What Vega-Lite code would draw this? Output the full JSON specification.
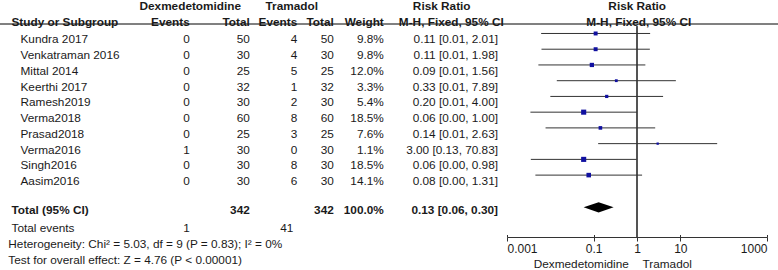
{
  "$schema": "https://vega.github.io/schema/vega-lite/v6.json",
  "width": 778,
  "height": 237,
  "autosize": {"type": "none"},
  "padding": {"left": 0, "top": 0, "right": 0, "bottom": 33},
  "background": "white",
  "config": {"view": {"stroke": null}, "font": "Liberation Sans"},
  "data": {"name": "table"},
  "datasets": {
    "table": [
      {"row": "h1", "kind": "header", "dexHdr": "Dexmedetomidine", "traHdr": "Tramadol", "rr1": "Risk Ratio", "rr2": "Risk Ratio"},
      {"row": "h2", "kind": "header", "lab": "Study or Subgroup", "dE": "Events", "dT": "Total", "tE": "Events", "tT": "Total", "w": "Weight", "mh1": "M-H, Fixed, 95% CI", "mh2": "M-H, Fixed, 95% CI"},
      {"row": "Kundra 2017", "kind": "study", "dE": 0, "dT": 50, "tE": 4, "tT": 50, "weight": 9.8, "w": "9.8%", "rr": 0.111, "lo": 0.00614, "hi": 2.01, "ci": "0.11 [0.01, 2.01]"},
      {"row": "Venkatraman 2016", "kind": "study", "dE": 0, "dT": 30, "tE": 4, "tT": 30, "weight": 9.8, "w": "9.8%", "rr": 0.111, "lo": 0.00625, "hi": 1.98, "ci": "0.11 [0.01, 1.98]"},
      {"row": "Mittal 2014", "kind": "study", "dE": 0, "dT": 25, "tE": 5, "tT": 25, "weight": 12.0, "w": "12.0%", "rr": 0.0909, "lo": 0.0053, "hi": 1.56, "ci": "0.09 [0.01, 1.56]"},
      {"row": "Keerthi 2017", "kind": "study", "dE": 0, "dT": 32, "tE": 1, "tT": 32, "weight": 3.3, "w": "3.3%", "rr": 0.333, "lo": 0.0141, "hi": 7.89, "ci": "0.33 [0.01, 7.89]"},
      {"row": "Ramesh2019", "kind": "study", "dE": 0, "dT": 30, "tE": 2, "tT": 30, "weight": 5.4, "w": "5.4%", "rr": 0.2, "lo": 0.01, "hi": 4.0, "ci": "0.20 [0.01, 4.00]"},
      {"row": "Verma2018", "kind": "study", "dE": 0, "dT": 60, "tE": 8, "tT": 60, "weight": 18.5, "w": "18.5%", "rr": 0.0588, "lo": 0.00347, "hi": 1.0, "ci": "0.06 [0.00, 1.00]"},
      {"row": "Prasad2018", "kind": "study", "dE": 0, "dT": 25, "tE": 3, "tT": 25, "weight": 7.6, "w": "7.6%", "rr": 0.143, "lo": 0.00776, "hi": 2.63, "ci": "0.14 [0.01, 2.63]"},
      {"row": "Verma2016", "kind": "study", "dE": 1, "dT": 30, "tE": 0, "tT": 30, "weight": 1.1, "w": "1.1%", "rr": 3.0, "lo": 0.127, "hi": 70.83, "ci": "3.00 [0.13, 70.83]"},
      {"row": "Singh2016", "kind": "study", "dE": 0, "dT": 30, "tE": 8, "tT": 30, "weight": 18.5, "w": "18.5%", "rr": 0.0588, "lo": 0.00355, "hi": 0.98, "ci": "0.06 [0.00, 0.98]"},
      {"row": "Aasim2016", "kind": "study", "dE": 0, "dT": 30, "tE": 6, "tT": 30, "weight": 14.1, "w": "14.1%", "rr": 0.0769, "lo": 0.00452, "hi": 1.31, "ci": "0.08 [0.00, 1.31]"},
      {"row": "total", "kind": "total", "lab": "Total (95% CI)", "dT": 342, "tT": 342, "w": "100.0%", "rr": 0.13, "lo": 0.06, "hi": 0.3, "ci": "0.13 [0.06, 0.30]"},
      {"row": "events", "kind": "events", "lab": "Total events", "dE": 1, "tE": 41},
      {"row": "het", "kind": "note", "note": "Heterogeneity: Chi² = 5.03, df = 9 (P = 0.83); I² = 0%"},
      {"row": "test", "kind": "note", "note": "Test for overall effect: Z = 4.76 (P < 0.00001)", "favL": "Dexmedetomidine", "favR": "Tramadol"}
    ]
  },
  "encoding": {
    "y": {
      "field": "row", "type": "nominal",
      "scale": {"type": "point", "padding": 0, "range": [8.0, 259.8],
        "domain": ["h1", "h2", "Kundra 2017", "Venkatraman 2016", "Mittal 2014", "Keerthi 2017", "Ramesh2019", "Verma2018", "Prasad2018", "Verma2016", "Singh2016", "Aasim2016", "gap", "total", "events", "het", "test"]},
      "axis": null
    }
  },
  "resolve": {"scale": {"x": "independent"}},
  "layer": [
    {
      "resolve": {"axis": {"x": "independent"}},
      "layer": [
        {
          "mark": {"type": "rule", "color": "#555555", "strokeWidth": 1, "yOffset": 3},
          "encoding": {
            "x": {"datum": 1, "type": "quantitative",
              "scale": {"type": "log", "domain": [0.001, 1000], "range": [507, 767], "nice": false},
              "axis": {"orient": "top", "offset": -237, "values": [0.001, 0.1, 1, 10, 1000], "labels": false, "domain": false, "tickSize": 2.5, "tickColor": "#333333", "grid": false, "title": null}},
            "y": {"datum": "h2"},
            "y2": {"value": "height"}
          }
        },
        {
          "transform": [{"filter": "datum.kind == 'study'"}],
          "mark": {"type": "rule", "color": "#333333", "strokeWidth": 1, "yOffset": -6},
          "encoding": {
            "x": {"field": "lo", "type": "quantitative",
              "scale": {"type": "log", "domain": [0.001, 1000], "range": [507, 767], "nice": false},
              "axis": {"orient": "bottom", "values": [0.001, 0.1, 1, 10, 1000], "format": "~g", "labelFlush": true, "tickSize": 4, "domainColor": "#333333", "tickColor": "#333333", "labelColor": "#1a1a1a", "labelFont": "Liberation Sans", "labelFontSize": 12, "labelPadding": 2, "grid": false, "title": null}},
            "x2": {"field": "hi"}
          }
        },
        {
          "transform": [{"filter": "datum.kind == 'study'"}],
          "mark": {"type": "point", "shape": "square", "filled": true, "opacity": 1, "color": "#1010a0", "yOffset": -6},
          "encoding": {
            "x": {"field": "rr", "type": "quantitative", "axis": null},
            "size": {"field": "weight", "type": "quantitative", "scale": {"domain": [0, 18.5], "range": [4, 26], "zero": false}, "legend": null}
          }
        },
        {
          "transform": [{"filter": "datum.kind == 'total'"}],
          "mark": {"type": "point", "shape": "M-1,0L0,-0.34L1,0L0,0.34Z", "size": 900, "filled": true, "opacity": 1, "color": "#000000", "yOffset": -5.3},
          "encoding": {
            "x": {"field": "rr", "type": "quantitative", "axis": null}
          }
        }
      ]
    },
    {
      "layer": [
        {
          "mark": {"type": "rule", "color": "#808080", "strokeWidth": 1, "yOffset": 0.5},
          "encoding": {"y": {"datum": "h2"}}
        },
        {
          "transform": [{"filter": "datum.kind == 'study'"}],
          "mark": {"type": "text", "align": "left", "baseline": "middle", "fontSize": 11.8, "color": "#1a1a1a"},
          "encoding": {"x": {"datum": 20.5, "type": "quantitative", "scale": {"domain": [0, 778], "range": [0, 778], "zero": false, "nice": false}, "axis": null}, "text": {"field": "row"}}
        },
        {
          "transform": [{"filter": "isValid(datum.lab)"}],
          "mark": {"type": "text", "align": "left", "baseline": "middle", "fontSize": 11.8, "color": "#1a1a1a", "fontWeight": {"expr": "datum.kind == 'header' || datum.kind == 'total' ? 'bold' : 'normal'"}, "dy": {"expr": "datum.kind == 'header' || datum.kind == 'total' ? -2.2 : 0"}},
          "encoding": {"x": {"datum": 11.5, "type": "quantitative"}, "text": {"field": "lab"}}
        },
        {
          "transform": [{"filter": "isValid(datum.note)"}],
          "mark": {"type": "text", "align": "left", "baseline": "middle", "fontSize": 11.8, "color": "#1a1a1a"},
          "encoding": {"x": {"datum": 8.3, "type": "quantitative"}, "text": {"field": "note"}}
        },
        {
          "transform": [{"filter": "isValid(datum.dE)"}],
          "mark": {"type": "text", "align": "right", "baseline": "middle", "fontSize": 11.8, "color": "#1a1a1a", "fontWeight": {"expr": "datum.kind == 'header' || datum.kind == 'total' ? 'bold' : 'normal'"}, "dy": {"expr": "datum.kind == 'header' || datum.kind == 'total' ? -2.2 : 0"}},
          "encoding": {"x": {"datum": 189.8, "type": "quantitative"}, "text": {"field": "dE"}}
        },
        {
          "transform": [{"filter": "isValid(datum.dT)"}],
          "mark": {"type": "text", "align": "right", "baseline": "middle", "fontSize": 11.8, "color": "#1a1a1a", "fontWeight": {"expr": "datum.kind == 'header' || datum.kind == 'total' ? 'bold' : 'normal'"}, "dy": {"expr": "datum.kind == 'header' || datum.kind == 'total' ? -2.2 : 0"}},
          "encoding": {"x": {"datum": 249.8, "type": "quantitative"}, "text": {"field": "dT"}}
        },
        {
          "transform": [{"filter": "isValid(datum.tE)"}],
          "mark": {"type": "text", "align": "right", "baseline": "middle", "fontSize": 11.8, "color": "#1a1a1a", "fontWeight": {"expr": "datum.kind == 'header' || datum.kind == 'total' ? 'bold' : 'normal'"}, "dy": {"expr": "datum.kind == 'header' || datum.kind == 'total' ? -2.2 : 0"}, "dx": {"expr": "datum.kind == 'events' ? -4 : 0"}},
          "encoding": {"x": {"datum": 297.3, "type": "quantitative"}, "text": {"field": "tE"}}
        },
        {
          "transform": [{"filter": "isValid(datum.tT)"}],
          "mark": {"type": "text", "align": "right", "baseline": "middle", "fontSize": 11.8, "color": "#1a1a1a", "fontWeight": {"expr": "datum.kind == 'header' || datum.kind == 'total' ? 'bold' : 'normal'"}, "dy": {"expr": "datum.kind == 'header' || datum.kind == 'total' ? -2.2 : 0"}},
          "encoding": {"x": {"datum": 333.8, "type": "quantitative"}, "text": {"field": "tT"}}
        },
        {
          "transform": [{"filter": "isValid(datum.w)"}],
          "mark": {"type": "text", "align": "right", "baseline": "middle", "fontSize": 11.8, "color": "#1a1a1a", "fontWeight": {"expr": "datum.kind == 'header' || datum.kind == 'total' ? 'bold' : 'normal'"}, "dy": {"expr": "datum.kind == 'header' || datum.kind == 'total' ? -2.2 : 0"}},
          "encoding": {"x": {"datum": 383.8, "type": "quantitative"}, "text": {"field": "w"}}
        },
        {
          "transform": [{"filter": "isValid(datum.ci)"}],
          "mark": {"type": "text", "align": "right", "baseline": "middle", "fontSize": 11.8, "color": "#1a1a1a", "fontWeight": {"expr": "datum.kind == 'header' || datum.kind == 'total' ? 'bold' : 'normal'"}, "dy": {"expr": "datum.kind == 'header' || datum.kind == 'total' ? -2.2 : 0"}},
          "encoding": {"x": {"datum": 498, "type": "quantitative"}, "text": {"field": "ci"}}
        },
        {
          "transform": [{"filter": "isValid(datum.dexHdr)"}],
          "mark": {"type": "text", "align": "center", "baseline": "middle", "fontSize": 11.8, "color": "#1a1a1a", "fontWeight": "bold", "dy": -2.2},
          "encoding": {"x": {"datum": 190.3, "type": "quantitative"}, "text": {"field": "dexHdr"}}
        },
        {
          "transform": [{"filter": "isValid(datum.traHdr)"}],
          "mark": {"type": "text", "align": "center", "baseline": "middle", "fontSize": 11.8, "color": "#1a1a1a", "fontWeight": "bold", "dy": -2.2},
          "encoding": {"x": {"datum": 291.7, "type": "quantitative"}, "text": {"field": "traHdr"}}
        },
        {
          "transform": [{"filter": "isValid(datum.rr1)"}],
          "mark": {"type": "text", "align": "center", "baseline": "middle", "fontSize": 11.8, "color": "#1a1a1a", "fontWeight": "bold", "dy": -2.2},
          "encoding": {"x": {"datum": 441.7, "type": "quantitative"}, "text": {"field": "rr1"}}
        },
        {
          "transform": [{"filter": "isValid(datum.mh1)"}],
          "mark": {"type": "text", "align": "center", "baseline": "middle", "fontSize": 11.8, "color": "#1a1a1a", "fontWeight": "bold", "dy": -2.2},
          "encoding": {"x": {"datum": 451.3, "type": "quantitative"}, "text": {"field": "mh1"}}
        },
        {
          "transform": [{"filter": "isValid(datum.rr2)"}],
          "mark": {"type": "text", "align": "center", "baseline": "middle", "fontSize": 11.8, "color": "#1a1a1a", "fontWeight": "bold", "dy": -2.2},
          "encoding": {"x": {"datum": 637.2, "type": "quantitative"}, "text": {"field": "rr2"}}
        },
        {
          "transform": [{"filter": "isValid(datum.mh2)"}],
          "mark": {"type": "text", "align": "center", "baseline": "middle", "fontSize": 11.8, "color": "#1a1a1a", "fontWeight": "bold", "dy": -2.2},
          "encoding": {"x": {"datum": 638.8, "type": "quantitative"}, "text": {"field": "mh2"}}
        },
        {
          "transform": [{"filter": "isValid(datum.favL)"}],
          "mark": {"type": "text", "align": "right", "baseline": "middle", "fontSize": 11.8, "color": "#1a1a1a", "dy": 3.8},
          "encoding": {"x": {"datum": 628.8, "type": "quantitative"}, "text": {"field": "favL"}}
        },
        {
          "transform": [{"filter": "isValid(datum.favR)"}],
          "mark": {"type": "text", "align": "left", "baseline": "middle", "fontSize": 11.8, "color": "#1a1a1a", "dy": 3.8},
          "encoding": {"x": {"datum": 642.5, "type": "quantitative"}, "text": {"field": "favR"}}
        }
      ]
    }
  ]
}
